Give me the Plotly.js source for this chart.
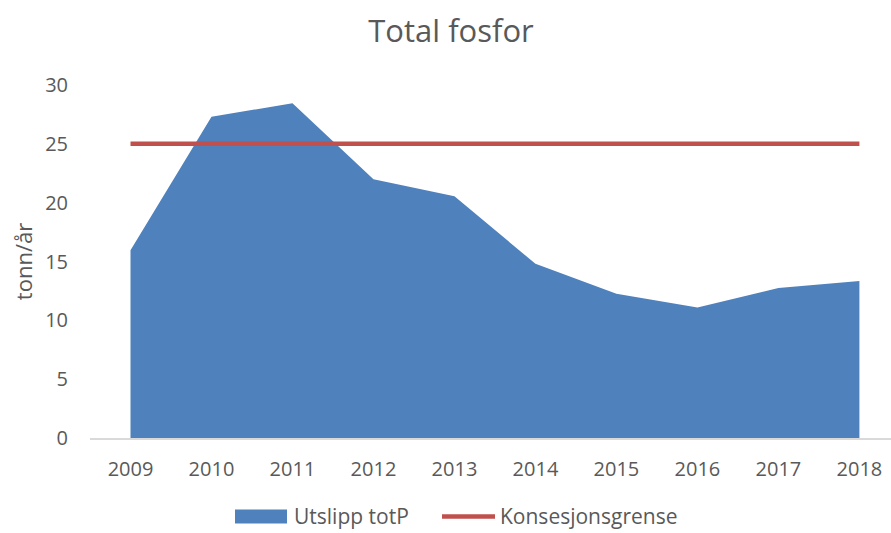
<!DOCTYPE html>
<html><head><meta charset="utf-8">
<script src="https://cdn.plot.ly/plotly-3.0.1.min.js"></script>
<style>html,body{margin:0;padding:0;background:#fff;}#chart{width:891px;height:533px;}</style>
</head><body><div id="chart"></div>
<script>
const years = ['2009','2010','2011','2012','2013','2014','2015','2016','2017','2018'];
const utslipp = [15.95, 27.3, 28.45, 22.0, 20.55, 14.8, 12.25, 11.1, 12.75, 13.35];
const konsesjon = [25, 25, 25, 25, 25, 25, 25, 25, 25, 25];
const yTicks = [0, 5, 10, 15, 20, 25, 30];
const seriesNames = ['Utslipp totP', 'Konsesjonsgrense'];

const font = "'Open Sans', 'Liberation Sans', sans-serif";
const grey = '#595959';
const blue = '#4F81BD';
const red = '#C0504D';

const traces = [
  {x: years, y: utslipp, type: 'scatter', mode: 'none', fill: 'tozeroy',
   fillcolor: blue, name: seriesNames[0], showlegend: false},
  {x: years, y: konsesjon, type: 'scatter', mode: 'lines',
   line: {color: red, width: 4.5}, name: seriesNames[1], showlegend: false}
];

// custom legend (pixel-placed in paper space)
const W = 891, H = 533, ml = 90, mr = 0, mt = 85, mb = 94.5;
const pw = W - ml - mr, ph = H - mt - mb;
const px = x => (x - ml) / pw;
const py = y => (H - mb - y) / ph;
const legY = 517;

const layout = {
  width: W, height: H,
  margin: {l: ml, r: mr, t: mt, b: mb, autoexpand: false},
  paper_bgcolor: '#fff', plot_bgcolor: '#fff',
  font: {family: font, color: grey},
  title: {text: 'Total fosfor', font: {family: font, size: 31, color: grey},
          x: 451/W, xanchor: 'center', y: 1 - 31/H, yref: 'container', yanchor: 'middle'},
  xaxis: {type: 'category', range: [-0.5, 9.39], fixedrange: true,
          showline: true, linecolor: '#D9D9D9', linewidth: 1.5,
          showgrid: false, zeroline: false,
          ticks: 'outside', ticklen: 12, tickcolor: 'rgba(0,0,0,0)',
          tickfont: {family: font, size: 20, color: grey}},
  yaxis: {range: [0, 30], tickvals: yTicks, showgrid: false, zeroline: false, showline: false,
          ticks: 'outside', ticklen: 17, tickcolor: 'rgba(0,0,0,0)',
          tickfont: {family: font, size: 20, color: grey},
          title: {text: 'tonn/år', font: {family: font, size: 22, color: grey}, standoff: 6}},
  showlegend: false,
  shapes: [
    {type: 'rect', xref: 'paper', yref: 'paper', x0: px(235), x1: px(287), y0: py(legY + 7), y1: py(legY - 7),
     fillcolor: blue, line: {width: 0}},
    {type: 'line', xref: 'paper', yref: 'paper', x0: px(442), x1: px(495), y0: py(legY), y1: py(legY),
     line: {color: red, width: 4.5}}
  ],
  annotations: [
    {text: seriesNames[0], xref: 'paper', yref: 'paper', x: px(292), y: py(legY),
     xanchor: 'left', yanchor: 'middle', showarrow: false, font: {family: font, size: 21, color: grey}},
    {text: seriesNames[1], xref: 'paper', yref: 'paper', x: px(498), y: py(legY),
     xanchor: 'left', yanchor: 'middle', showarrow: false, font: {family: font, size: 21, color: grey}}
  ]
};

Plotly.newPlot('chart', traces, layout, {displayModeBar: false, staticPlot: true});
</script></body></html>
